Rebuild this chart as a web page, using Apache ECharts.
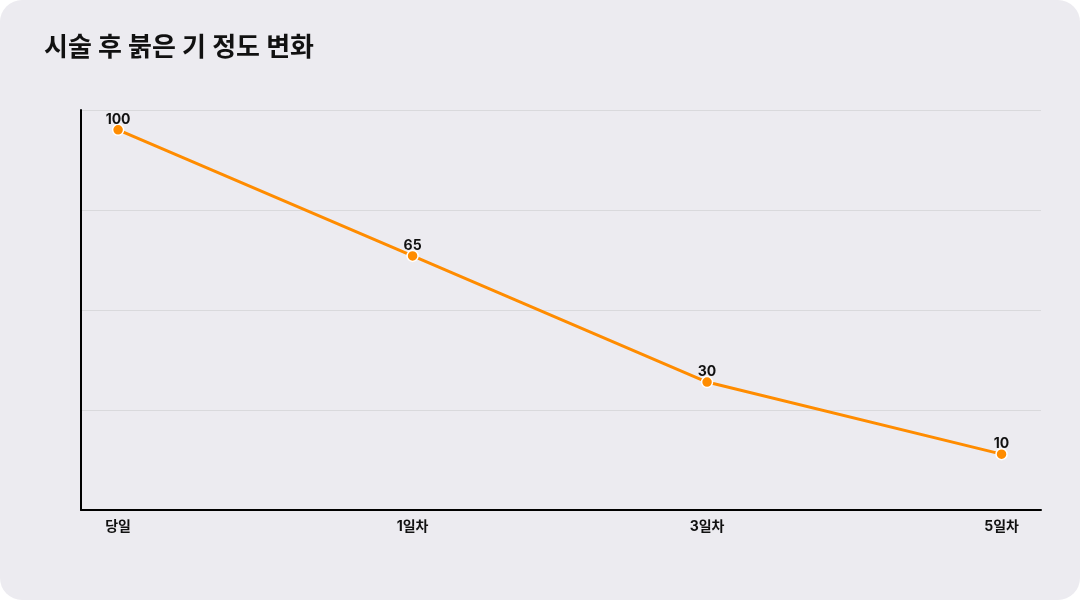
<!DOCTYPE html>
<html lang="ko">
<head>
<meta charset="UTF-8">
<title>시술 후 붉은 기 정도 변화</title>
<style>
  html, body { margin: 0; padding: 0; background: #ffffff; }
  #main { width: 1080px; height: 600px; background: #ECEBF0; border-radius: 22px; }
</style>
</head>
<body>
<div id="main"></div>
<script src="https://cdn.jsdelivr.net/npm/echarts@6/dist/echarts.min.js"></script>
<script>
// 데이터
var categories = ['당일', '1일차', '3일차', '5일차'];
var rednessValues = [100, 65, 30, 10];
var xPositions = [0, 1, 2, 3];

var font = 'Inter, "Noto Sans CJK KR", "Noto Sans", sans-serif';

var seriesData = rednessValues.map(function (v, i) {
  return [xPositions[i], v];
});

var myChart = echarts.init(document.getElementById('main'));
myChart.setOption({
  backgroundColor: 'transparent',
  title: {
    text: '시술 후 붉은 기 정도 변화',
    left: 39,
    top: 30,
    textStyle: { fontFamily: font, fontSize: 26, fontWeight: 'bold', color: '#111111' }
  },
  grid: { left: 81, right: 39, top: 110, bottom: 90 },
  xAxis: {
    type: 'value',
    min: -0.126,
    max: 3.134,
    axisLine: { show: true, onZero: false, lineStyle: { color: '#000000', width: 2 } },
    axisTick: { show: false },
    splitLine: { show: false },
    axisLabel: {
      customValues: xPositions,
      margin: 10,
      fontFamily: font,
      fontSize: 14,
      fontWeight: 'bold',
      color: '#111111',
      formatter: function (v) { return categories[Math.round(v)]; }
    }
  },
  yAxis: {
    type: 'value',
    min: -5.5,
    max: 105.5,
    interval: 27.75,
    axisLine: { show: true, onZero: false, lineStyle: { color: '#000000', width: 2 } },
    axisTick: { show: false },
    axisLabel: { show: false },
    splitLine: { show: true, lineStyle: { color: '#d9d9dc', width: 1 } }
  },
  series: [{
    type: 'line',
    data: seriesData,
    symbol: 'circle',
    symbolSize: 11,
    lineStyle: { color: '#FF8C00', width: 3 },
    itemStyle: { color: '#FF8C00', borderColor: '#ffffff', borderWidth: 1.5 },
    label: {
      show: true,
      position: 'top',
      distance: -3,
      fontFamily: font,
      fontSize: 14,
      fontWeight: 'bold',
      color: '#111111',
      formatter: function (p) { return p.value[1]; }
    },
    animation: false
  }]
});
</script>
</body>
</html>
